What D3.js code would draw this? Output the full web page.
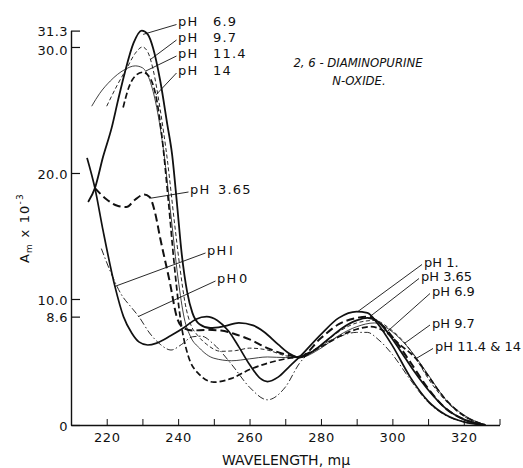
<!DOCTYPE html>
<html><head><meta charset="utf-8">
<script src="https://cdn.jsdelivr.net/npm/d3@7"></script>
<style>
body{margin:0;background:#fff}
svg text{font-family:"DejaVu Sans",sans-serif;fill:#111}
</style></head><body>
<svg id="c" width="523" height="468"></svg>
<script>
// ---- data ----
const xTicks=[220,230,240,250,260,270,280,290,300,310,320,330];
const xTickLabels=[220,240,260,280,300,320];
const yTicks=[0,8.6,10,20,30,31.3];
const yTickLabels=["0","8.6","10.0","20.0","30.0","31.3"];
const seriesNames=["pH 0","pH 1","pH 3.65","pH 6.9","pH 9.7","pH 11.4","pH 14"];
// [wavelength (mμ), Am x 10^-3]
const pH0=[[218.5,14.0],[221,12.2],[224,10.4],[227,9.3],[229,8.6],[232,7.3],[235,6.4],[238,5.95],[241,6.4],[244,7.0],[246.5,7.05],[250,6.4],[255,4.8],[260,3.0],[265,2.0],[270,3.0],[274,4.9],[280,6.3],[285,7.0],[290,7.35],[293,7.35],[296,6.8],[300,5.6],[305,3.6],[310,1.8],[315,0.75],[320,0.25],[326,0]];
const pH1=[[214.5,21.2],[216.7,18.8],[219,15.4],[222.3,11.0],[224.7,8.6],[227,7.3],[229,6.6],[231.5,6.35],[234,6.5],[238,7.1],[242,7.8],[245,8.4],[248,8.6],[251,8.3],[254,7.5],[257,6.2],[260,4.8],[263,3.7],[265,3.45],[268,3.8],[271,4.6],[274,5.4],[280,7.2],[285,8.5],[290,9.0],[293,8.9],[296,8.0],[300,6.3],[305,3.8],[310,1.9],[315,0.8],[320,0.25],[326,0]];
const pH365=[[216.7,18.8],[220,17.9],[223,17.4],[225.5,17.3],[228,17.9],[230.5,18.3],[232,18.1],[233.5,16.9],[235,14.8],[237.7,11.3],[239.6,8.6],[241.5,7.7],[244,7.5],[248,7.55],[252,7.5],[256,7.2],[260,6.8],[265,6.1],[270,5.6],[274,5.4],[280,6.9],[285,8.0],[290,8.5],[293,8.6],[296,8.2],[300,7.0],[305,5.0],[310,2.9],[315,1.3],[320,0.45],[326,0]];
const pH69=[[214.8,17.7],[216.7,18.8],[219,21.3],[221.4,23.6],[223.2,25.8],[225.1,28.0],[227.5,30.3],[229.8,31.3],[231.5,31.0],[233,29.9],[235,27.3],[237,23.8],[238.3,21.5],[239.7,17.5],[241,13.6],[242.5,10.6],[244,8.9],[246,8.0],[249,7.7],[253,7.85],[257,8.1],[261,7.9],[264,7.4],[268,6.4],[271,5.7],[274,5.35],[278,5.9],[282,6.8],[286,7.7],[290,8.3],[293,8.5],[296,8.2],[298.5,7.4],[302,6.0],[306,4.3],[310,2.8],[315,1.3],[320,0.45],[326,0]];
const pH97=[[220,25.3],[223,27.0],[225.6,28.3],[228,29.5],[230,30.0],[231.5,29.6],[233,28.2],[235,25.0],[237,21.0],[239,16.0],[240.5,12.5],[242,9.6],[243.5,8.0],[245.5,7.1],[248,6.4],[252,5.85],[256,5.9],[260,6.1],[265,5.95],[270,5.5],[274,5.35],[280,6.3],[285,7.4],[290,8.1],[295,8.3],[299,7.7],[303.5,6.5],[307,5.1],[310,3.7],[315,1.9],[320,0.7],[326,0]];
const pH114=[[215.8,25.3],[218,26.3],[221,27.3],[225,28.2],[228,28.5],[230,28.35],[232,27.4],[234,25.2],[236,21.6],[238,16.6],[240,11.6],[241.7,8.5],[243.5,7.0],[246,6.1],[250,5.3],[255,5.1],[260,5.25],[265,5.4],[270,5.35],[274,5.35],[280,6.1],[285,7.1],[290,7.8],[295,8.1],[299,7.6],[303,6.6],[306.8,5.3],[310,4.0],[315,2.0],[320,0.8],[326,0]];
const pH14=[[224.6,25.2],[226.2,26.8],[228.4,27.8],[230.2,28.0],[232,27.6],[234,25.8],[235.5,22.8],[237.2,18.0],[239,12.5],[240.7,8.3],[242.7,5.6],[246,4.0],[250,3.4],[255,3.7],[260,4.4],[265,4.9],[270,5.25],[274,5.45],[280,6.2],[285,7.0],[290,7.6],[294,7.8],[298,7.4],[302,6.4],[306.8,5.2],[310,3.9],[315,2.0],[320,0.75],[326,0]];
const seriesData=[pH0,pH1,pH365,pH69,pH97,pH114,pH14];
// annotation anchors on curves [wavelength, Am]
const leftAnchors=[[230.2,31.0],[232.2,29.0],[231.0,28.1],[233.8,26.2],[232.3,18.0],[222.3,11.0],[228.8,8.6]];
const leftLabelValues=["6.9","9.7","11.4","14","3.65","I","0"];
const rightAnchors=[[290.3,9.0],[293.7,8.6],[298.5,7.4],[303.5,6.5],[306.8,5.3]];
const rightLabelTexts=["pH 1.","pH 3.65","pH 6.9","pH 9.7","pH 11.4 & 14"];

// ---- styles / layout ----
const styles=[
  {w:0.9,dash:"7,2.5,1.5,2.5"},
  {w:1.7,dash:null},
  {w:2.0,dash:"8,4"},
  {w:1.8,dash:null},
  {w:0.9,dash:"4,2.5"},
  {w:0.8,dash:null},
  {w:1.7,dash:"6,3"}
];
const leftLabelPos=[
  {x:178,vx:213,y:26},{x:178,vx:213,y:41.5},{x:178,vx:213,y:57.5},{x:178,vx:213,y:74.5},
  {x:190,vx:218,y:193.5},{x:207,vx:229,y:254.5},{x:217,vx:239,y:282.5}
];
const rightLabelPos=[{x:424,y:267},{x:421,y:281},{x:432,y:296},{x:432,y:327.5},{x:435,y:351}];

const svg=d3.select("#c");
const x=d3.scaleLinear().domain([210,330]).range([71,499.5]);
const y=d3.scaleLinear().domain([0,31.3]).range([425,30.6]);

// axes
const xAxis=d3.axisBottom(x).tickValues(xTicks).tickSizeInner(-6).tickSizeOuter(0).tickPadding(8)
  .tickFormat(d=>xTickLabels.includes(d)?String(d):"");
const gx=svg.append("g").attr("transform",`translate(0,${y(0)})`).call(xAxis);
gx.select(".domain").attr("stroke","#111").attr("stroke-width",1.4);
gx.selectAll(".tick line").attr("stroke","#111").attr("stroke-width",1);
gx.selectAll("text").attr("font-size",13).attr("letter-spacing",0.6).attr("fill","#111");

const yAxis=d3.axisLeft(y).tickValues(yTicks).tickSizeInner(-9).tickSizeOuter(0).tickPadding(3)
  .tickFormat((d,i)=>yTickLabels[i]);
const gy=svg.append("g").attr("transform",`translate(${x(210)},0)`).call(yAxis);
gy.select(".domain").attr("stroke","#111").attr("stroke-width",1.4);
gy.selectAll(".tick line").attr("stroke","#111").attr("stroke-width",1.2);
gy.selectAll("text").attr("font-size",13).attr("letter-spacing",0.4).attr("fill","#111")
  .attr("dy",(d)=> d===30?"0.55em":"0.4em");

// curves
const line=d3.line().x(d=>x(d[0])).y(d=>y(d[1])).curve(d3.curveMonotoneX);
svg.append("g").selectAll("path").data(seriesData).join("path")
  .attr("d",line).attr("fill","none").attr("stroke","#111")
  .attr("stroke-width",(d,i)=>styles[i].w)
  .attr("stroke-dasharray",(d,i)=>styles[i].dash)
  .attr("stroke-linejoin","round");

// left labels
leftLabelPos.forEach((p,i)=>{
  const a=leftAnchors[i];
  svg.append("line").attr("x1",p.x-1.5).attr("y1",p.y-1.5).attr("x2",x(a[0])).attr("y2",y(a[1]))
    .attr("stroke","#111").attr("stroke-width",0.9);
  const t=svg.append("text").attr("x",p.x).attr("y",p.y).attr("font-size",13).attr("letter-spacing",1.2);
  t.append("tspan").text("pH");
  t.append("tspan").attr("x",p.vx).text(leftLabelValues[i]);
});
// right labels
rightLabelPos.forEach((p,i)=>{
  const a=rightAnchors[i];
  svg.append("line").attr("x1",p.x-2).attr("y1",p.y-2.5).attr("x2",x(a[0])).attr("y2",y(a[1]))
    .attr("stroke","#111").attr("stroke-width",0.9);
  svg.append("text").attr("x",p.x).attr("y",p.y).attr("font-size",13).text(rightLabelTexts[i]);
});

// title
const title=svg.append("g").attr("font-style","italic");
title.append("text").attr("x",358).attr("y",67).attr("text-anchor","middle")
  .attr("font-size",13).style("font-family","'DejaVu Sans Condensed','DejaVu Sans',sans-serif")
  .text("2, 6 - DIAMINOPURINE");
title.append("text").attr("x",359).attr("y",85).attr("text-anchor","middle")
  .attr("font-size",13).style("font-family","'DejaVu Sans Condensed','DejaVu Sans',sans-serif")
  .text("N-OXIDE.");

// axis titles
svg.append("text").attr("x",286).attr("y",465).attr("text-anchor","middle").attr("font-size",14)
  .text("WAVELENGTH, mμ");
const yl=svg.append("text").attr("transform","translate(29,228) rotate(-90)").attr("text-anchor","middle")
  .attr("font-size",13).attr("letter-spacing",1.2);
yl.append("tspan").text("A");
yl.append("tspan").attr("font-size",9).attr("dy",3).text("m");
yl.append("tspan").attr("dy",-3).text(" x 10");
yl.append("tspan").attr("font-size",9).attr("dy",-6).text("-3");
</script>
</body></html>
